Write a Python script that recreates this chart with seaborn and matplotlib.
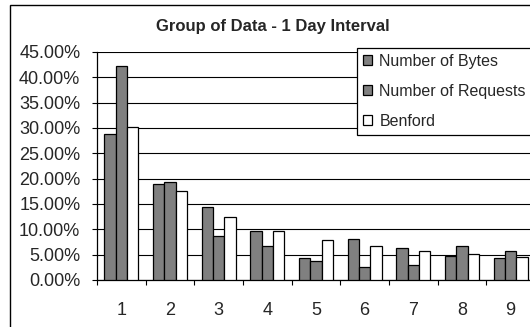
import matplotlib
matplotlib.use("Agg")
import matplotlib.pyplot as plt
from matplotlib.patches import Rectangle
from matplotlib.ticker import FixedLocator, FuncFormatter
import numpy as np
import pandas as pd
import seaborn as sns

# First-digit distributions (percent)
digits = ["1", "2", "3", "4", "5", "6", "7", "8", "9"]
bytes_pct = [28.8, 19.0, 14.5, 9.6, 4.4, 8.1, 6.3, 4.7, 4.4]
requests_pct = [42.2, 19.3, 8.7, 6.8, 3.8, 2.6, 2.9, 6.8, 5.65]
benford_pct = [30.1, 17.6, 12.5, 9.7, 7.9, 6.7, 5.8, 5.1, 4.6]
series_names = ["Number of Bytes", "Number of Requests", "Benford"]
y_ticks = [0, 5, 10, 15, 20, 25, 30, 35, 40, 45]

df = pd.DataFrame({
    "digit": digits * 3,
    "series": [s for s in series_names for _ in digits],
    "value": bytes_pct + requests_pct + benford_pct,
})

sns.set_style("white")
plt.rcParams["font.family"] = ["Liberation Sans", "DejaVu Sans"]

W, H = 530, 327
fig = plt.figure(figsize=(W / 100, H / 100), dpi=100)
fig.patch.set_facecolor("white")

# plot area: left edge x=97 px, 0% at y=280 px, 45% at y=52 px
ax = fig.add_axes([97 / W, 1 - 280 / H, (535 - 97) / W, (280 - 52) / H])

palette = {"Number of Bytes": "#808080",
           "Number of Requests": "#808080",
           "Benford": "#ffffff"}
sns.barplot(data=df, x="digit", y="value", hue="series", order=digits,
            hue_order=series_names, palette=palette, saturation=1,
            edgecolor="black", linewidth=0.9, width=0.7, gap=0, ax=ax,
            zorder=3)

ax.set_xlim(-0.5, 8.5)
ax.set_ylim(0, 45)
ax.set_yticks(y_ticks)
ax.yaxis.set_major_formatter(FuncFormatter(lambda v, _: f"{v:.2f}%"))
ax.grid(axis="y", color="black", linewidth=0.8, zorder=0)
ax.set_axisbelow(True)
ax.set_xlabel("")
ax.set_ylabel("")

for side in ("top", "right"):
    ax.spines[side].set_visible(False)
for side in ("left", "bottom"):
    ax.spines[side].set_color("black")
    ax.spines[side].set_linewidth(0.9)

ax.tick_params(axis="y", which="major", length=3.6, width=0.8, color="black",
               direction="out", pad=8.4, labelsize=13, left=True)
ax.tick_params(axis="x", which="major", length=0, pad=16, labelsize=13)
ax.xaxis.set_minor_locator(FixedLocator(np.arange(-0.5, 9.0, 1.0)))
ax.tick_params(axis="x", which="minor", length=3.6, width=0.8,
               color="black", direction="out", bottom=True)

handles, labels = ax.get_legend_handles_labels()
if ax.legend_ is not None:
    ax.legend_.remove()
leg = fig.legend(handles, labels, loc="upper left",
                 bbox_to_anchor=(357 / W, 1 - 48 / H),
                 bbox_transform=fig.transFigure,
                 fontsize=11.5, frameon=True, fancybox=False, shadow=False,
                 handlelength=0.6, handleheight=0.6, handletextpad=0.45,
                 labelspacing=0.95, borderpad=0.35, borderaxespad=0)
leg.get_frame().set_edgecolor("black")
leg.get_frame().set_linewidth(0.9)
leg.get_frame().set_alpha(1)

fig.text(273 / W, 1 - 27 / H, "Group of Data - 1 Day Interval",
         ha="center", va="center", fontsize=12, fontweight="bold")

# chart-area border
fig.patches.append(Rectangle((10 / W, -0.2), 1.2, 1.2 - 5 / H,
                             transform=fig.transFigure, fill=False,
                             edgecolor="black", linewidth=1.0))

fig.savefig("out.png", dpi=100)
